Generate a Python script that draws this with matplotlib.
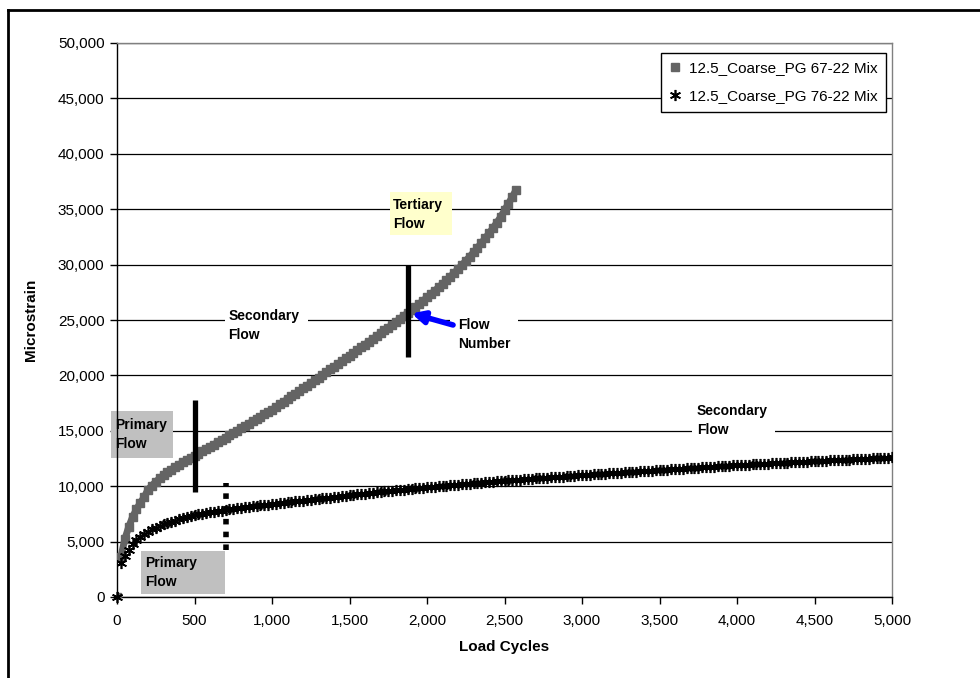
import numpy as np
import matplotlib
matplotlib.use("Agg")
import matplotlib.pyplot as plt
from matplotlib.patches import Rectangle
from matplotlib.lines import Line2D
from matplotlib.ticker import FuncFormatter

plt.rcParams['font.family'] = ['Liberation Sans', 'DejaVu Sans']

# ---------------- data ----------------
series_names = ["12.5_Coarse_PG 67-22 Mix", "12.5_Coarse_PG 76-22 Mix"]

cycles_67 = np.arange(0, 2600, 25)
strain_67 = [
    0, 3600, 5200, 6300, 7200, 7900, 8500, 9000, 9700, 10050,
    10400, 10700, 11000, 11250, 11500, 11750, 11950, 12150, 12350, 12550,
    12750, 12950, 13150, 13350, 13550, 13760, 13970, 14180, 14390, 14600,
    14810, 15020, 15230, 15440, 15650, 15860, 16070, 16280, 16490, 16700,
    16900, 17140, 17380, 17620, 17860, 18100, 18340, 18580, 18820, 19065,
    19310, 19555, 19800, 20045, 20290, 20535, 20780, 21030, 21280, 21530,
    21780, 22030, 22280, 22530, 22780, 23035, 23290, 23545, 23800, 24060,
    24320, 24580, 24840, 25105, 25370, 25640, 25910, 26190, 26470, 26750,
    27040, 27340, 27640, 27950, 28260, 28580, 28910, 29250, 29600, 29960,
    30330, 30710, 31100, 31510, 31930, 32370, 32820, 33290, 33780, 34290,
    34900, 35500, 36100, 36750,
]

cycles_76 = np.arange(0, 5001, 25)
strain_76 = [
    0, 3100, 3700, 4200, 4750, 5100, 5400, 5650, 5900, 6100,
    6250, 6400, 6550, 6680, 6800, 6900, 7000, 7100, 7200, 7300,
    7400, 7460, 7520, 7580, 7640, 7700, 7750, 7800, 7850, 7900,
    7950, 8000, 8050, 8100, 8140, 8180, 8220, 8260, 8300, 8340,
    8380, 8420, 8460, 8500, 8540, 8580, 8620, 8660, 8700, 8740,
    8780, 8820, 8860, 8900, 8940, 8980, 9020, 9060, 9100, 9140,
    9180, 9220, 9260, 9300, 9340, 9380, 9420, 9455, 9490, 9525,
    9560, 9595, 9630, 9665, 9700, 9735, 9770, 9805, 9840, 9875,
    9910, 9940, 9970, 10000, 10030, 10060, 10090, 10120, 10150, 10180,
    10210, 10240, 10270, 10300, 10330, 10360, 10390, 10420, 10450, 10475,
    10500, 10525, 10550, 10575, 10600, 10625, 10650, 10675, 10700, 10725,
    10750, 10775, 10800, 10825, 10850, 10875, 10900, 10925, 10950, 10975,
    11000, 11022, 11045, 11067, 11090, 11112, 11135, 11157, 11180, 11202,
    11225, 11247, 11270, 11292, 11315, 11337, 11360, 11382, 11405, 11427,
    11450, 11472, 11495, 11517, 11540, 11562, 11585, 11607, 11630, 11652,
    11675, 11697, 11720, 11742, 11765, 11787, 11810, 11832, 11855, 11877,
    11900, 11917, 11935, 11952, 11970, 11987, 12005, 12022, 12040, 12057,
    12075, 12092, 12110, 12127, 12145, 12162, 12180, 12197, 12215, 12232,
    12250, 12267, 12285, 12302, 12320, 12337, 12355, 12372, 12390, 12407,
    12425, 12442, 12460, 12477, 12495, 12512, 12530, 12547, 12565, 12582,
    12600,
]

# phase boundary markers (cycles, strain range)
primary_end_67 = 500
primary_end_67_range = [9500, 17800]
primary_end_76 = 700
primary_end_76_range = [4240, 10260]
flow_number = 1880
flow_number_range = [21700, 30000]
flow_number_strain = 25600

x_ticks = list(range(0, 5001, 500))
y_ticks = list(range(0, 50001, 5000))

# ---------------- figure ----------------
fig = plt.figure(figsize=(9.8, 6.78), dpi=100)
ax = fig.add_axes([117/980, 1-597/678, 775/980, 554/678])

ax.set_xlim(0, 5000)
ax.set_ylim(0, 50000)
ax.set_xticks(x_ticks)
ax.set_yticks(y_ticks)
fmt = FuncFormatter(lambda v, p: f"{int(v):,}")
ax.xaxis.set_major_formatter(fmt)
ax.yaxis.set_major_formatter(fmt)
ax.tick_params(axis='both', direction='out', length=5, width=1, labelsize=11,
               colors='black')
ax.tick_params(axis='x', pad=7)
ax.tick_params(axis='y', pad=4)
ax.yaxis.grid(True, color='black', lw=0.9, zorder=0)
ax.set_axisbelow(True)
for s in ['top', 'right']:
    ax.spines[s].set_color('#808080')
    ax.spines[s].set_linewidth(1)
for s in ['left', 'bottom']:
    ax.spines[s].set_color('black')
    ax.spines[s].set_linewidth(1)

ax.set_xlabel("Load Cycles", fontsize=11, fontweight='bold', labelpad=9)
ax.set_ylabel("Microstrain", fontsize=11, fontweight='bold', labelpad=14)

# series (dense Excel-style markers forming a band)
gray = '#646464'
ax.plot(cycles_67[1:], strain_67[1:], color=gray, lw=5, solid_capstyle='butt',
        zorder=3)
ax.plot(cycles_67, strain_67, ls='none', marker='s', ms=5.3, mfc=gray,
        mec=gray, zorder=3, label=series_names[0])
star = (6, 2, 0)
ax.plot(cycles_76, strain_76, ls='none', marker=star, ms=8, mfc='black',
        mec='black', mew=1.2, zorder=3.5, label=series_names[1])
# first point (origin) drawn unclipped as in the original chart
ax.plot(cycles_76[:1], strain_76[:1], ls='none', marker=star, ms=8,
        mfc='black', mec='black', mew=1.2, zorder=3.6, clip_on=False)

# phase boundary bars
ax.plot([primary_end_67]*2, primary_end_67_range, color='black', lw=3.8,
        solid_capstyle='butt', zorder=4)
ax.plot([flow_number]*2, flow_number_range, color='black', lw=3.8,
        solid_capstyle='butt', zorder=4)
ax.plot([primary_end_76]*2, primary_end_76_range, color='black', lw=4,
        ls=(0, (1, 1.3)), dash_capstyle='butt', zorder=4)

# text boxes
def box(x0, x1, y0, y1, fc):
    ax.add_patch(Rectangle((x0, y0), x1-x0, y1-y0, fc=fc, ec='none',
                           zorder=2, clip_on=False))

def label(x, y, s):
    ax.text(x, y, s, fontsize=10, fontweight='bold', ha='left', va='top',
            linespacing=1.45, zorder=5, clip_on=False)

box(-39, 361, 12545, 16788, '#C0C0C0')
label(-13, 16128, "Primary\nFlow")

box(155, 697, 270, 4150, '#C0C0C0')
label(181, 3727, "Primary\nFlow")

box(1761, 2161, 32671, 36552, '#FFFFCC')
label(1783, 36011, "Tertiary\nFlow")

box(697, 1232, 23200, 26350, 'white')
label(718, 25993, "Secondary\nFlow")

box(2148, 2587, 22470, 25720, 'white')
label(2202, 25153, "Flow\nNumber")

box(3710, 4245, 14170, 17780, 'white')
label(3740, 17419, "Secondary\nFlow")

# flow number arrow
ax.annotate('', xy=(flow_number + 20, flow_number_strain), xytext=(2168, 24550),
            arrowprops=dict(arrowstyle='-|>', color='#0000FF', lw=4,
                            mutation_scale=18, shrinkA=0, shrinkB=0),
            zorder=6)

# legend
leg = ax.legend(loc='upper right', bbox_to_anchor=(0.992, 0.982),
                borderaxespad=0, fontsize=11, frameon=True, fancybox=False,
                edgecolor='black', handlelength=0.8, handletextpad=0.5,
                borderpad=0.55, labelspacing=0.9, markerscale=1.0)
leg.get_frame().set_linewidth(1)
leg.get_frame().set_alpha(1)

# outer chart frame (top and left visible)
fig.add_artist(Line2D([8/980, 1.0], [1-10/678, 1-10/678], color='black', lw=2,
                      transform=fig.transFigure))
fig.add_artist(Line2D([8/980, 8/980], [0, 1-10/678], color='black', lw=2,
                      transform=fig.transFigure))

fig.savefig("out.png", dpi=100)
